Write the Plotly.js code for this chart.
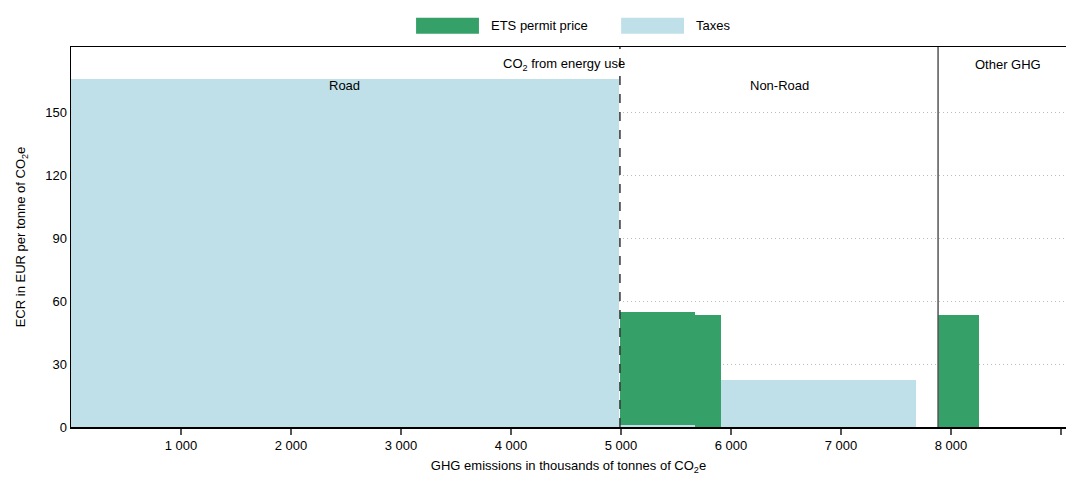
<!DOCTYPE html>
<html>
<head>
<meta charset="utf-8">
<script src="https://cdn.plot.ly/plotly-3.0.1.min.js"></script>
<style>html,body{margin:0;padding:0;background:#fff}#chart{width:1067px;height:477px}</style>
</head>
<body>
<div id="chart"></div>
<script>
// Segment edges (thousand tonnes CO2e) and rates (EUR per tonne)
var segStart = [0, 4990, 5673, 5909, 7882];
var segEnd   = [4985, 5673, 5909, 7682, 8255];
var etsRate  = [0, 54.2, 53.3, 0, 53.3];
var taxRate  = [165.8, 0.8, 0, 22.4, 0];
var tickVals = [1000, 2000, 3000, 4000, 5000, 6000, 7000, 8000, 9000];
var tickText = ['1 000', '2 000', '3 000', '4 000', '5 000', '6 000', '7 000', '8 000', ''];
var roadEnd = 4990;
var energyEnd = 7882;

var mids = segStart.map(function (s, i) { return (s + segEnd[i]) / 2; });
var widths = segStart.map(function (s, i) { return segEnd[i] - s; });

var GREEN = '#35a068', BLUE = '#bfe0e9';
var FONT = 'Liberation Sans, Arial, sans-serif';
var FS = 13;

var traces = [
  {type: 'bar', name: 'Taxes', x: mids, y: taxRate, width: widths,
   marker: {color: BLUE, line: {width: 0}}, showlegend: false, hoverinfo: 'skip'},
  {type: 'bar', name: 'ETS permit price', x: mids, y: etsRate, width: widths,
   marker: {color: GREEN, line: {width: 0}}, showlegend: false, hoverinfo: 'skip'}
];

var layout = {
  width: 1067, height: 477,
  margin: {l: 71, r: 1, t: 47, b: 50},
  barmode: 'stack', bargap: 0,
  paper_bgcolor: '#fff', plot_bgcolor: '#fff',
  font: {family: FONT, size: FS, color: '#000'},
  xaxis: {
    range: [0, 9045], tickvals: tickVals, ticktext: tickText,
    showgrid: false, zeroline: false, showline: true, linecolor: '#000', linewidth: 1.5,
    mirror: true, ticks: 'outside', ticklen: 6, tickcolor: '#555', tickwidth: 1.3,
    tickfont: {family: FONT, size: FS},
    title: {text: 'GHG emissions in thousands of tonnes of CO<sub>2</sub>e', font: {family: FONT, size: FS}, standoff: 9}
  },
  yaxis: {
    range: [0, 181], tickvals: [0, 30, 60, 90, 120, 150],
    showgrid: true, gridcolor: '#bdbdbd', griddash: '1px,3px', gridwidth: 1,
    zeroline: false, showline: true, linecolor: '#000', linewidth: 1.5, ticks: '',
    tickfont: {family: FONT, size: FS},
    title: {text: 'ECR in EUR per tonne of CO<sub>2</sub>e', font: {family: FONT, size: FS}, standoff: 16}
  },
  shapes: [
    {type: 'line', xref: 'x', yref: 'paper', x0: roadEnd, x1: roadEnd, y0: 0, y1: 1,
     line: {color: '#333', width: 1.5, dash: 'dash'}},
    {type: 'line', xref: 'x', yref: 'paper', x0: energyEnd, x1: energyEnd, y0: 0, y1: 1,
     line: {color: '#555', width: 1.5}},
    {type: 'rect', xref: 'paper', yref: 'paper', x0: 0.3468, x1: 0.4100, y0: 1.035, y1: 1.077,
     fillcolor: GREEN, line: {width: 0}},
    {type: 'rect', xref: 'paper', yref: 'paper', x0: 0.5529, x1: 0.6161, y0: 1.035, y1: 1.077,
     fillcolor: BLUE, line: {width: 0}}
  ],
  annotations: [
    {xref: 'paper', yref: 'paper', x: 0.4201, y: 1.056, xanchor: 'left', yanchor: 'middle',
     text: 'ETS permit price', showarrow: false, font: {family: FONT, size: FS}},
    {xref: 'paper', yref: 'paper', x: 0.6262, y: 1.056, xanchor: 'left', yanchor: 'middle',
     text: 'Taxes', showarrow: false, font: {family: FONT, size: FS}},
    {xref: 'x', yref: 'paper', x: 4480, y: 0.955, xanchor: 'center', yanchor: 'middle',
     text: 'CO<sub>2</sub> from energy use', showarrow: false, font: {family: FONT, size: FS}},
    {xref: 'x', yref: 'paper', x: 2490, y: 0.900, xanchor: 'center', yanchor: 'middle',
     text: 'Road', showarrow: false, font: {family: FONT, size: FS}},
    {xref: 'x', yref: 'paper', x: 6436, y: 0.900, xanchor: 'center', yanchor: 'middle',
     text: 'Non-Road', showarrow: false, font: {family: FONT, size: FS}},
    {xref: 'x', yref: 'paper', x: 8518, y: 0.955, xanchor: 'center', yanchor: 'middle',
     text: 'Other GHG', showarrow: false, font: {family: FONT, size: FS}}
  ]
};

Plotly.newPlot('chart', traces, layout, {displayModeBar: false, staticPlot: true});
</script>
</body>
</html>
